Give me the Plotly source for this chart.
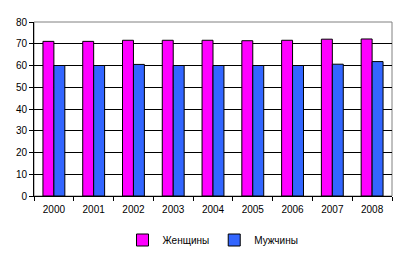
import plotly.graph_objects as go

years = ["2000", "2001", "2002", "2003", "2004", "2005", "2006", "2007", "2008"]
women = [71.1, 71.1, 71.6, 71.6, 71.6, 71.4, 71.6, 72.1, 72.2]
men = [60.0, 60.0, 60.5, 60.0, 60.0, 60.0, 60.0, 60.6, 61.8]
y_ticks = [0, 10, 20, 30, 40, 50, 60, 70, 80]

fig = go.Figure()
fig.add_trace(go.Bar(x=years, y=women, name="Женщины",
                     marker=dict(color="#FF00FF", line=dict(color="black", width=1))))
fig.add_trace(go.Bar(x=years, y=men, name="Мужчины",
                     marker=dict(color="#3366FF", line=dict(color="black", width=1))))

fig.update_layout(
    width=405, height=256,
    margin=dict(l=34, r=13, t=22, b=60, autoexpand=False),
    paper_bgcolor="white", plot_bgcolor="white",
    barmode="group", bargap=0.45, bargroupgap=0,
    font=dict(family="Liberation Sans, Arial", size=10, color="black"),
    showlegend=True,
    legend=dict(orientation="h", x=0.5, xanchor="center",
                yref="container", y=16 / 256, yanchor="middle",
                font=dict(size=10), itemwidth=30, tracegroupgap=0),
    shapes=[dict(type="rect", xref="paper", yref="paper", x0=0, x1=1, y0=0, y1=1,
                 line=dict(color="#808080", width=1), layer="below")],
)
fig.update_xaxes(showline=True, linecolor="black", linewidth=1, ticks="outside",
                 tickson="boundaries", ticklen=4, tickcolor="black", showgrid=False,
                 tickfont=dict(size=10), ticklabelstandoff=4, automargin=False)
fig.update_yaxes(range=[0, 80], tickvals=y_ticks, showline=True, linecolor="black",
                 linewidth=1, ticks="outside", ticklen=4, tickcolor="black",
                 showgrid=True, gridcolor="black", gridwidth=1, zeroline=False,
                 tickfont=dict(size=10), automargin=False)

fig.write_html("out.html")
